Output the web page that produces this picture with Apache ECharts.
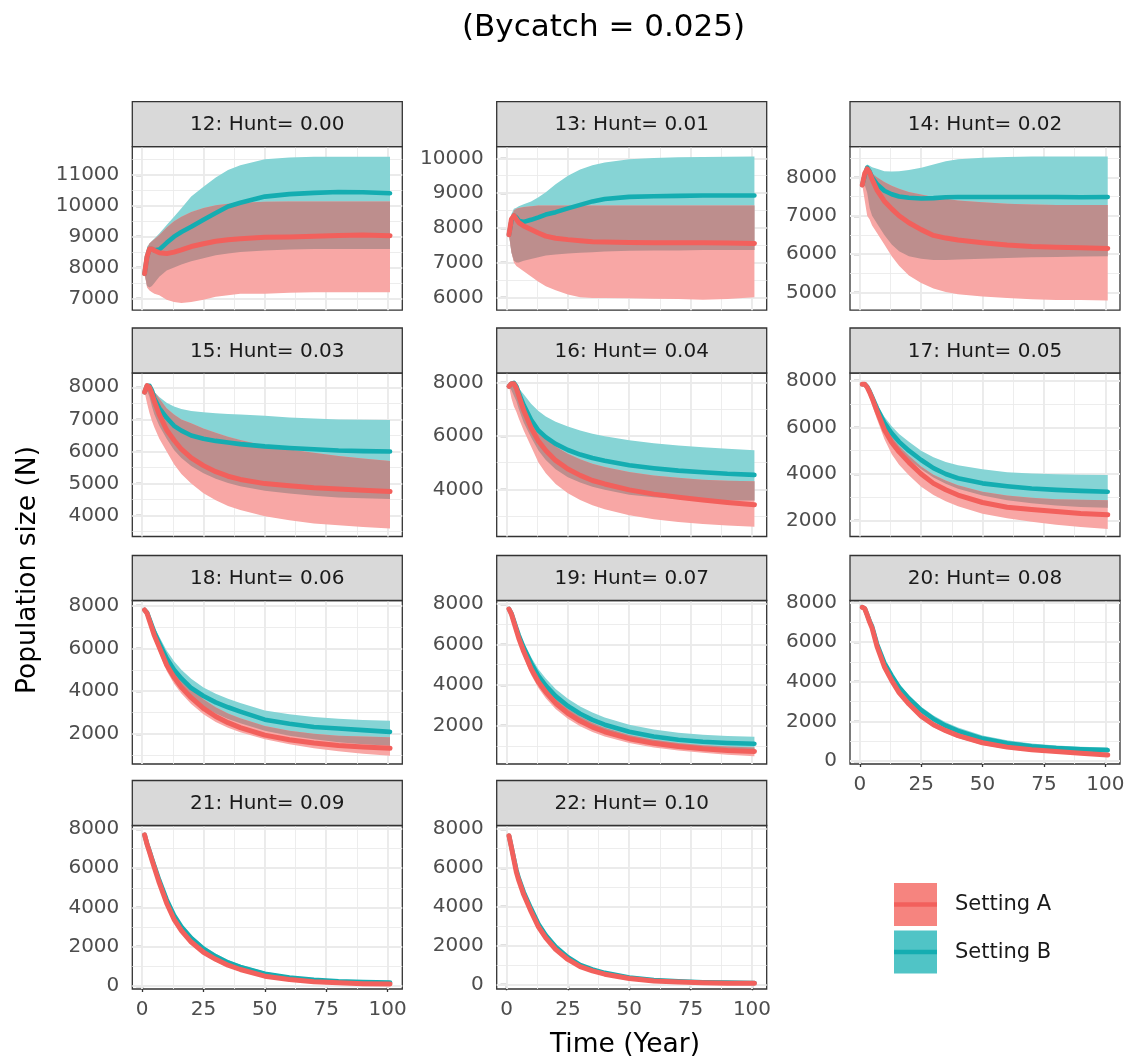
<!DOCTYPE html>
<html>
<head>
<meta charset="utf-8">
<title>Population size under hunting scenarios</title>
<script src="https://cdn.jsdelivr.net/npm/echarts@6.0.0/dist/echarts.min.js"></script>
<style>
  html, body { margin: 0; padding: 0; background: #ffffff; }
  #chart { width: 1129px; height: 1064px; }
</style>
</head>
<body>
<div id="chart"></div>
<script>
// ---------------------------------------------------------------------------
// Data: simulated population size, sampled years 1..101
// ---------------------------------------------------------------------------
const years = [1, 2, 3, 4, 5, 7, 10, 13, 16, 20, 25, 30, 35, 40, 50, 60, 70, 80, 90, 101];

const panelNames = [
  '12: Hunt= 0.00', '13: Hunt= 0.01', '14: Hunt= 0.02',
  '15: Hunt= 0.03', '16: Hunt= 0.04', '17: Hunt= 0.05',
  '18: Hunt= 0.06', '19: Hunt= 0.07', '20: Hunt= 0.08',
  '21: Hunt= 0.09', '22: Hunt= 0.10'
];

const settingNames = ['Setting A', 'Setting B'];

const xTicks = [0, 25, 50, 75, 100];
const xRange = [-4, 106];

const yTicks = [
  [7000, 8000, 9000, 10000, 11000],
  [6000, 7000, 8000, 9000, 10000],
  [5000, 6000, 7000, 8000],
  [4000, 5000, 6000, 7000, 8000],
  [4000, 6000, 8000],
  [2000, 4000, 6000, 8000],
  [2000, 4000, 6000, 8000],
  [2000, 4000, 6000, 8000],
  [0, 2000, 4000, 6000, 8000],
  [0, 2000, 4000, 6000, 8000],
  [0, 2000, 4000, 6000, 8000]
];

const yRange = [
  [6614, 11919], [5629, 10334], [4545, 8796],
  [3352, 8445], [2236, 8348], [1323, 8330],
  [598, 8243], [100, 8170], [-151, 8091],
  [-153, 8178], [-242, 8180]
];

// Setting A: mean, lower and upper bound of the simulations
const meanA = [
  [7800, 8350, 8600, 8600, 8550, 8480, 8450, 8500, 8570, 8680, 8770, 8850, 8900, 8930, 8980, 8990, 9010, 9040, 9050, 9030],
  [7800, 8250, 8350, 8250, 8150, 8050, 7950, 7850, 7760, 7700, 7660, 7630, 7600, 7590, 7580, 7570, 7570, 7570, 7560, 7550],
  [7800, 8100, 8220, 8120, 7950, 7670, 7380, 7180, 7000, 6820, 6640, 6490, 6420, 6370, 6300, 6240, 6200, 6180, 6170, 6150],
  [7850, 8050, 8000, 7800, 7550, 7150, 6670, 6350, 6070, 5800, 5560, 5370, 5230, 5130, 5000, 4930, 4870, 4830, 4790, 4750],
  [7850, 7950, 7950, 7780, 7500, 6950, 6300, 5800, 5450, 5080, 4760, 4520, 4330, 4200, 3980, 3820, 3700, 3600, 3510, 3420],
  [7850, 7850, 7720, 7500, 7250, 6700, 5900, 5350, 4950, 4500, 4000, 3600, 3330, 3100, 2780, 2580, 2480, 2390, 2310, 2250],
  [7800, 7650, 7300, 6950, 6600, 6050, 5230, 4650, 4180, 3700, 3200, 2820, 2530, 2300, 1950, 1730, 1580, 1460, 1390, 1330],
  [7750, 7500, 7100, 6700, 6300, 5650, 4800, 4150, 3650, 3100, 2600, 2220, 1920, 1690, 1350, 1120, 960, 850, 770, 720],
  [7750, 7680, 7350, 7000, 6700, 5780, 4750, 4050, 3450, 2870, 2260, 1830, 1530, 1280, 920, 700, 570, 480, 390, 300],
  [7700, 7220, 6830, 6420, 6020, 5250, 4220, 3400, 2820, 2240, 1720, 1360, 1060, 840, 500, 330, 220, 160, 120, 100],
  [7650, 7050, 6420, 5780, 5350, 4620, 3750, 2960, 2390, 1800, 1280, 910, 690, 520, 295, 175, 120, 82, 60, 48]
];
const lowA = [
  [7800, 7350, 7250, 7200, 7150, 7100, 6950, 6880, 6850, 6880, 6950, 7050, 7100, 7150, 7150, 7180, 7200, 7200, 7200, 7200],
  [7800, 7300, 7000, 6900, 6850, 6750, 6600, 6450, 6320, 6200, 6080, 6000, 5980, 5980, 5970, 5960, 5950, 5930, 5950, 6000],
  [7800, 7400, 7000, 6900, 6750, 6550, 6250, 5950, 5700, 5450, 5250, 5110, 5020, 4960, 4900, 4860, 4830, 4810, 4810, 4800],
  [7850, 7500, 7200, 6950, 6750, 6400, 6000, 5600, 5300, 5000, 4700, 4480, 4300, 4180, 3980, 3860, 3760, 3700, 3650, 3600],
  [7850, 7400, 7100, 6900, 6650, 6200, 5600, 5000, 4600, 4200, 3850, 3600, 3400, 3250, 3030, 2880, 2780, 2700, 2650, 2600],
  [7850, 7800, 7600, 7300, 6950, 6350, 5500, 4850, 4400, 3950, 3450, 3100, 2830, 2620, 2300, 2100, 1950, 1830, 1730, 1640],
  [7800, 7600, 7150, 6750, 6400, 5800, 4950, 4350, 3900, 3400, 2920, 2560, 2290, 2080, 1750, 1520, 1340, 1200, 1080, 980],
  [7750, 7400, 6950, 6500, 6100, 5400, 4500, 3850, 3350, 2820, 2330, 1960, 1680, 1460, 1140, 920, 770, 650, 560, 480],
  [7750, 7660, 7310, 6940, 6620, 5680, 4620, 3920, 3320, 2740, 2130, 1700, 1410, 1160, 810, 600, 480, 390, 310, 240],
  [7700, 7180, 6770, 6350, 5940, 5140, 4080, 3260, 2680, 2110, 1600, 1240, 960, 750, 430, 270, 170, 120, 85, 65],
  [7650, 6950, 6330, 5720, 5260, 4520, 3640, 2860, 2300, 1720, 1210, 850, 640, 480, 265, 155, 100, 68, 48, 38]
];
const highA = [
  [7800, 8600, 8780, 8850, 8920, 9050, 9300, 9500, 9650, 9800, 9930, 10020, 10070, 10100, 10130, 10140, 10140, 10140, 10140, 10140],
  [7800, 8300, 8500, 8550, 8570, 8600, 8620, 8640, 8640, 8640, 8640, 8640, 8640, 8640, 8640, 8640, 8640, 8640, 8640, 8640],
  [7800, 8150, 8280, 8200, 8100, 8000, 7880, 7780, 7700, 7620, 7550, 7490, 7440, 7400, 7350, 7310, 7290, 7280, 7280, 7280],
  [7850, 8050, 8050, 7950, 7850, 7650, 7350, 7150, 7000, 6880, 6720, 6580, 6460, 6360, 6180, 6060, 5960, 5860, 5780, 5700],
  [7850, 7950, 7950, 7850, 7650, 7200, 6650, 6200, 5900, 5600, 5330, 5120, 4960, 4830, 4650, 4520, 4430, 4360, 4320, 4300],
  [7850, 7860, 7740, 7530, 7300, 6800, 6100, 5600, 5200, 4780, 4320, 3970, 3720, 3520, 3240, 3080, 2980, 2920, 2900, 2880],
  [7800, 7720, 7420, 7100, 6800, 6300, 5600, 5060, 4620, 4130, 3620, 3250, 2960, 2740, 2380, 2150, 2010, 1920, 1880, 1850],
  [7750, 7560, 7200, 6820, 6450, 5830, 5020, 4380, 3880, 3330, 2830, 2440, 2130, 1890, 1530, 1300, 1140, 1030, 960, 920],
  [7750, 7700, 7380, 7040, 6750, 5850, 4850, 4170, 3580, 3000, 2390, 1960, 1650, 1400, 1030, 800, 660, 560, 470, 380],
  [7700, 7250, 6870, 6470, 6080, 5330, 4320, 3510, 2930, 2350, 1820, 1450, 1140, 910, 560, 380, 260, 200, 160, 140],
  [7650, 7060, 6460, 5870, 5420, 4700, 3830, 3040, 2460, 1870, 1340, 960, 730, 555, 320, 195, 135, 92, 70, 56]
];

// Setting B: mean, lower and upper bound of the simulations
const meanB = [
  [7800, 8350, 8600, 8600, 8560, 8580, 8800, 9000, 9150, 9320, 9550, 9770, 9980, 10100, 10300, 10380, 10420, 10450, 10440, 10410],
  [7800, 8200, 8350, 8300, 8200, 8170, 8230, 8300, 8380, 8450, 8560, 8660, 8760, 8830, 8890, 8910, 8920, 8930, 8930, 8930],
  [7800, 8050, 8250, 8150, 8000, 7820, 7650, 7560, 7500, 7470, 7450, 7460, 7480, 7490, 7490, 7490, 7490, 7490, 7480, 7490],
  [7850, 8050, 8050, 7900, 7650, 7350, 7050, 6800, 6650, 6500, 6400, 6330, 6280, 6230, 6160, 6110, 6070, 6030, 6010, 6000],
  [7850, 7950, 7980, 7850, 7600, 7150, 6600, 6200, 5950, 5700, 5470, 5300, 5170, 5070, 4900, 4790, 4700, 4640, 4580, 4540],
  [7850, 7850, 7740, 7540, 7300, 6820, 6200, 5750, 5380, 5000, 4600, 4250, 4000, 3820, 3600, 3480, 3380, 3320, 3280, 3240],
  [7800, 7680, 7380, 7060, 6750, 6250, 5540, 5000, 4600, 4150, 3780, 3480, 3250, 3050, 2670, 2480, 2330, 2260, 2180, 2100],
  [7750, 7530, 7170, 6800, 6450, 5850, 5080, 4450, 3970, 3450, 2960, 2580, 2280, 2040, 1690, 1460, 1300, 1200, 1140, 1100],
  [7750, 7690, 7380, 7050, 6780, 5900, 4950, 4300, 3720, 3150, 2560, 2120, 1780, 1520, 1130, 890, 740, 650, 590, 550],
  [7700, 7250, 6880, 6490, 6110, 5380, 4400, 3600, 3020, 2440, 1900, 1510, 1200, 970, 620, 430, 310, 240, 200, 180],
  [7650, 7070, 6480, 5900, 5460, 4750, 3900, 3110, 2530, 1930, 1390, 1000, 770, 590, 350, 215, 150, 105, 85, 70]
];
const lowB = [
  [7800, 7400, 7350, 7400, 7500, 7700, 7900, 8000, 8100, 8200, 8300, 8400, 8450, 8500, 8550, 8580, 8600, 8600, 8600, 8600],
  [7800, 7300, 7050, 7000, 7000, 7050, 7100, 7150, 7200, 7230, 7260, 7280, 7300, 7320, 7340, 7350, 7350, 7360, 7360, 7360],
  [7800, 7800, 7600, 7200, 7000, 6800, 6500, 6250, 6080, 5950, 5880, 5850, 5850, 5860, 5880, 5900, 5920, 5930, 5940, 5950],
  [7850, 7900, 7700, 7400, 7150, 6800, 6400, 6050, 5800, 5550, 5320, 5150, 5020, 4920, 4780, 4690, 4620, 4570, 4540, 4520],
  [7850, 7700, 7500, 7300, 7000, 6500, 5950, 5450, 5100, 4750, 4450, 4250, 4100, 3980, 3800, 3700, 3640, 3600, 3580, 3580],
  [7850, 7830, 7700, 7480, 7200, 6650, 5950, 5450, 5050, 4620, 4200, 3850, 3580, 3370, 3080, 2880, 2750, 2650, 2590, 2550],
  [7800, 7600, 7250, 6900, 6550, 5950, 5220, 4660, 4220, 3750, 3300, 2960, 2700, 2500, 2150, 1920, 1750, 1620, 1520, 1450],
  [7750, 7450, 7030, 6620, 6250, 5600, 4780, 4130, 3630, 3100, 2610, 2230, 1940, 1710, 1370, 1150, 1000, 900, 840, 800],
  [7750, 7670, 7340, 6990, 6710, 5800, 4820, 4150, 3570, 2990, 2400, 1960, 1630, 1370, 990, 760, 620, 530, 470, 430],
  [7700, 7230, 6840, 6440, 6040, 5290, 4280, 3470, 2890, 2310, 1780, 1400, 1100, 870, 540, 360, 250, 190, 150, 130],
  [7650, 7040, 6440, 5850, 5400, 4680, 3810, 3020, 2450, 1860, 1330, 950, 720, 550, 320, 190, 130, 90, 70, 58]
];
const highB = [
  [7800, 8670, 8780, 8860, 8940, 9100, 9380, 9650, 9920, 10300, 10620, 10920, 11160, 11320, 11510, 11570, 11590, 11595, 11595, 11595],
  [7800, 8400, 8550, 8580, 8620, 8680, 8760, 8880, 9020, 9250, 9500, 9680, 9800, 9880, 9970, 10010, 10030, 10040, 10045, 10050],
  [7800, 8200, 8330, 8300, 8260, 8220, 8160, 8150, 8160, 8190, 8250, 8330, 8420, 8470, 8510, 8530, 8540, 8540, 8540, 8540],
  [7850, 8080, 8050, 7950, 7850, 7700, 7520, 7400, 7320, 7260, 7220, 7190, 7170, 7150, 7110, 7060, 7030, 7000, 6990, 6980],
  [7850, 7970, 8000, 7900, 7780, 7550, 7200, 6930, 6720, 6530, 6350, 6200, 6080, 5980, 5830, 5720, 5640, 5570, 5520, 5460],
  [7850, 7880, 7780, 7600, 7400, 6980, 6450, 6050, 5720, 5380, 5000, 4720, 4520, 4380, 4200, 4080, 4020, 3990, 3970, 3960],
  [7800, 7750, 7500, 7250, 7000, 6550, 5900, 5400, 5000, 4580, 4180, 3880, 3650, 3450, 3100, 2920, 2790, 2710, 2660, 2620],
  [7750, 7600, 7300, 6980, 6650, 6100, 5380, 4780, 4320, 3800, 3320, 2940, 2640, 2400, 2040, 1800, 1640, 1540, 1480, 1440],
  [7750, 7710, 7420, 7110, 6850, 6000, 5080, 4450, 3880, 3320, 2730, 2290, 1950, 1690, 1290, 1040, 880, 780, 720, 680],
  [7700, 7280, 6930, 6560, 6190, 5490, 4540, 3760, 3170, 2590, 2040, 1640, 1320, 1080, 720, 510, 380, 300, 260, 240],
  [7650, 7120, 6540, 5980, 5550, 4850, 4010, 3220, 2640, 2030, 1480, 1070, 830, 640, 390, 245, 175, 125, 100, 85]
];

// ---------------------------------------------------------------------------
// Layout and styling
// ---------------------------------------------------------------------------
const FONT = 'DejaVu Sans';
const colLeft = [132.3, 496.7, 850];
const rowTop = [146.7, 373, 600.5, 825.5];
const PANEL_W = 270;
const PANEL_H = 163.5;
const STRIP_H = 45;
const BORDER = '#333333';
const GRID_COLOR = '#EBEBEB';

const COLORS = {
  bandA: '#F8A7A5',
  bandB: '#86D4D5',
  overlap: '#BD8E8D',
  lineA: '#F2605C',
  lineB: '#14ADB1',
  keyA: '#F6847F',
  keyB: '#50C4C6'
};

// the bottom panel of each column carries the year axis
const xAxisShown = [false, false, false, false, false, false, false, false, true, true, true];

const toPairs = (vals) => years.map((x, i) => [x, vals[i]]);

// ggplot-style minor breaks: midpoints between majors, extended one step beyond
function minorBreaks(ticks, range) {
  const step = ticks[1] - ticks[0];
  const ext = [ticks[0] - step, ...ticks, ticks[ticks.length - 1] + step];
  const out = [];
  for (let i = 0; i < ext.length - 1; i++) {
    const m = (ext[i] + ext[i + 1]) / 2;
    if (m > range[0] && m < range[1]) out.push(m);
  }
  return out;
}

function gridLineData(p) {
  const items = [];
  minorBreaks(yTicks[p], yRange[p]).forEach(v => items.push({ yAxis: v, lineStyle: { width: 0.9 } }));
  minorBreaks(xTicks, xRange).forEach(v => items.push({ xAxis: v, lineStyle: { width: 0.9 } }));
  yTicks[p].forEach(v => items.push({ yAxis: v, lineStyle: { width: 1.9 } }));
  xTicks.forEach(v => items.push({ xAxis: v, lineStyle: { width: 1.9 } }));
  return items;
}

// Ribbon between lower and upper bounds as a stacked pair of line series.
// Rows are [value, year] so that the stacked dimension is the population value.
function ribbon(p, key, lower, upper, color, z) {
  const common = {
    type: 'line', xAxisIndex: p, yAxisIndex: p, stack: 'panel' + p + key,
    encode: { x: 1, y: 0 },
    symbol: 'none', silent: true, z: z,
    lineStyle: { width: 0, opacity: 0 }
  };
  return [
    Object.assign({}, common, { name: key + ' lower', data: years.map((x, i) => [lower[i], x]) }),
    Object.assign({}, common, {
      name: key + ' width',
      data: years.map((x, i) => [Math.max(0, upper[i] - lower[i]), x]),
      areaStyle: { color: color, opacity: 1 }
    })
  ];
}

function meanLine(p, name, vals, color, width, z) {
  return {
    type: 'line', name: name, xAxisIndex: p, yAxisIndex: p,
    data: toPairs(vals), symbol: 'none', silent: true, z: z,
    lineStyle: { color: color, width: width, join: 'round', cap: 'round' }
  };
}

const grids = [], xAxes = [], yAxes = [], series = [], graphics = [];

panelNames.forEach((title, p) => {
  const r = Math.floor(p / 3), c = p % 3;

  grids.push({
    left: colLeft[c], top: rowTop[r], width: PANEL_W, height: PANEL_H,
    show: true, backgroundColor: '#FFFFFF', borderColor: BORDER, borderWidth: 1.3
  });

  xAxes.push({
    gridIndex: p, type: 'value', min: xRange[0], max: xRange[1],
    axisLine: { show: false }, splitLine: { show: false },
    axisTick: { show: xAxisShown[p], customValues: xTicks, length: 6, lineStyle: { color: BORDER, width: 1.3 } },
    axisLabel: { show: xAxisShown[p], customValues: xTicks, margin: 11, color: '#4D4D4D',
      fontSize: 20, fontFamily: FONT, formatter: v => String(v) }
  });

  yAxes.push({
    gridIndex: p, type: 'value', min: yRange[p][0], max: yRange[p][1],
    axisLine: { show: false }, splitLine: { show: false },
    axisTick: { customValues: yTicks[p], length: 6, lineStyle: { color: BORDER, width: 1.3 } },
    axisLabel: { customValues: yTicks[p], margin: 13, color: '#4D4D4D',
      fontSize: 20, fontFamily: FONT, formatter: v => String(v) }
  });

  // background grid lines, kept underneath the ribbons
  series.push({
    type: 'line', name: 'grid ' + p, xAxisIndex: p, yAxisIndex: p, data: [], z: 1, silent: true,
    markLine: {
      z: 1, silent: true, symbol: ['none', 'none'], animation: false,
      label: { show: false }, emphasis: { disabled: true },
      lineStyle: { color: GRID_COLOR, type: 'solid', width: 1 },
      data: gridLineData(p)
    }
  });

  // overlap of both ribbons
  const ovLow = lowA[p].map((v, i) => Math.max(v, lowB[p][i]));
  const ovHigh = highA[p].map((v, i) => Math.max(ovLow[i], Math.min(v, highB[p][i])));

  series.push(...ribbon(p, 'B', lowB[p], highB[p], COLORS.bandB, 6));
  series.push(...ribbon(p, 'A', lowA[p], highA[p], COLORS.bandA, 7));
  series.push(...ribbon(p, 'AB', ovLow, ovHigh, COLORS.overlap, 8));
  series.push(meanLine(p, settingNames[1], meanB[p], COLORS.lineB, 4.6, 9));
  series.push(meanLine(p, settingNames[0], meanA[p], COLORS.lineA, 5, 10));

  // facet strip
  graphics.push({
    type: 'rect', silent: true, z: 10,
    shape: { x: colLeft[c], y: rowTop[r] - STRIP_H, width: PANEL_W, height: STRIP_H },
    style: { fill: '#D9D9D9', stroke: BORDER, lineWidth: 1.3 }
  });
  graphics.push({
    type: 'text', silent: true, z: 11,
    x: colLeft[c] + PANEL_W / 2, y: rowTop[r] - STRIP_H / 2 + 1,
    style: { text: title, fill: '#1A1A1A', fontSize: 20, fontFamily: FONT, align: 'center', verticalAlign: 'middle' }
  });
});

// axis titles
graphics.push({
  type: 'text', silent: true, x: 625, y: 1045,
  style: { text: 'Time (Year)', fill: '#000000', fontSize: 26.5, fontFamily: FONT, align: 'center', verticalAlign: 'middle' }
});
graphics.push({
  type: 'text', silent: true, x: 28, y: 570, rotation: Math.PI / 2,
  style: { text: 'Population size (N)', fill: '#000000', fontSize: 26.5, fontFamily: FONT, align: 'center', verticalAlign: 'middle' }
});

// legend keys: ribbon fill with the mean line across it
[[COLORS.keyA, COLORS.lineA, 883], [COLORS.keyB, COLORS.lineB, 930.5]].forEach(([fill, line, y], i) => {
  graphics.push({ type: 'rect', silent: true, shape: { x: 894, y: y, width: 43, height: 43 }, style: { fill: fill } });
  graphics.push({ type: 'line', silent: true, shape: { x1: 894, y1: y + 21.5, x2: 937, y2: y + 21.5 },
    style: { stroke: line, lineWidth: 4.5 } });
  graphics.push({ type: 'text', silent: true, x: 955, y: y + 22,
    style: { text: settingNames[i], fill: '#1A1A1A', fontSize: 21, fontFamily: FONT, align: 'left', verticalAlign: 'middle' } });
});

const chart = echarts.init(document.getElementById('chart'), null, { renderer: 'canvas' });
chart.setOption({
  animation: false,
  backgroundColor: '#FFFFFF',
  textStyle: { fontFamily: FONT },
  title: {
    text: '(Bycatch = 0.025)', left: 603.5, top: 12, padding: 0, textAlign: 'center',
    textStyle: { fontSize: 31, fontWeight: 'normal', color: '#000000', fontFamily: FONT }
  },
  grid: grids,
  xAxis: xAxes,
  yAxis: yAxes,
  series: series,
  graphic: { elements: graphics }
});
</script>
</body>
</html>
